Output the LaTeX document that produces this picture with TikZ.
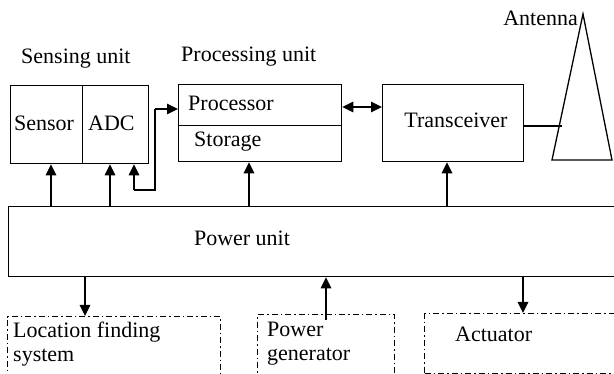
\documentclass[tikz,border=0pt]{standalone}
\usepackage{fontspec}
\setmainfont{Liberation Serif}
\usetikzlibrary{arrows.meta}
\begin{document}
\begin{tikzpicture}[x=1pt,y=-1pt,
  every node/.style={font=\fontsize{22}{24}\selectfont, text=black},
  box/.style={draw, line width=1.3pt, anchor=north west, inner sep=0pt},
  dbox/.style={draw, line width=1.2pt, anchor=north west, inner sep=0pt,
     dash pattern=on 6pt off 3pt on 1.5pt off 3pt},
  lbl/.style={inner sep=0pt},
  conn/.style={line width=1.3pt},
  arr/.style={line width=1.3pt, -{Triangle[length=11pt,width=10.5pt]}},
  darr/.style={line width=1.3pt, {Triangle[length=11pt,width=10.5pt]}-{Triangle[length=11pt,width=10.5pt]}}
]
\clip (0,0) rectangle (614,374);
% top labels
\node[lbl, anchor=west] (senslbl) at (21,59) {Sensing unit};
\node[lbl, anchor=west] (proclbl) at (181,57) {Processing unit};
\node[lbl, anchor=east] (antlbl) at (578,18) {Antenna};
% sensing unit
\node[box, minimum width=72pt, minimum height=78pt] (sensor) at (10,85) {};
\node[box, minimum width=66pt, minimum height=78pt] (adc) at (82,85) {};
\node[lbl] (sensortxt) at (44,123) {Sensor};
\node[lbl, anchor=west] (adctxt) at (88,123) {ADC};
% processing unit
\node[box, minimum width=163pt, minimum height=41pt] (proc) at (178,84) {};
\node[box, minimum width=163pt, minimum height=36pt] (stor) at (178,125) {};
\node[lbl, anchor=west] (proctxt) at (188,103) {Processor};
\node[lbl, anchor=west] (stortxt) at (194,142) {Storage};
% transceiver
\node[box, minimum width=141pt, minimum height=77pt] (trx) at (382,84) {};
\node[lbl] (trxtxt) at (456,120) {Transceiver};
% antenna
\draw[line width=1.3pt] (583,14) -- (552,160) -- (612,160) -- cycle;
\coordinate (antin) at (562,126);
% power unit
\node[box, minimum width=620pt, minimum height=70pt] (pwr) at (8,206) {};
\node[lbl] (pwrtxt) at (242,238) {Power unit};
% bottom boxes
\node[dbox, minimum width=213pt, minimum height=70pt] (loc) at (7,316) {};
\node[lbl, anchor=west, align=left] (loctxt) at (13,344) {Location finding\\system};
\node[dbox, minimum width=137pt, minimum height=70pt] (gen) at (257,314) {};
\node[lbl, anchor=west, align=left] (gentxt) at (267,344) {Power\\generator};
\node[dbox, minimum width=200pt, minimum height=60pt] (act) at (424,313) {};
\node[lbl, anchor=west] (acttxt) at (455,334) {Actuator};
% connectors
\draw[arr] (pwr.north -| 51,0) -- (sensor.south -| 51,0);
\draw[arr] (pwr.north -| 110,0) -- (adc.south -| 110,0);
\coordinate (c1) at (134,190);
\coordinate (c2) at (155,190);
\coordinate (c3) at (155,109);
\draw[arr] (c1) -- (adc.south -| c1);
\draw[conn] (c1) -- (c2) -- (c3);
\draw[arr] (c3) -- (proc.west |- c3);
\draw[arr] (pwr.north -| 249,0) -- (stor.south -| 249,0);
\draw[darr] (proc.east |- 0,107) -- (trx.west |- 0,107);
\draw[arr] (pwr.north -| 447,0) -- (trx.south -| 447,0);
\draw[conn] (trx.east |- antin) -- (antin);
\draw[arr] (pwr.south -| 85,0) -- (loc.north -| 85,0);
\coordinate (g1) at (326,320);
\draw[arr] (g1) -- (pwr.south -| g1);
\draw[arr] (pwr.south -| 523,0) -- (act.north -| 523,0);
\end{tikzpicture}
\end{document}
